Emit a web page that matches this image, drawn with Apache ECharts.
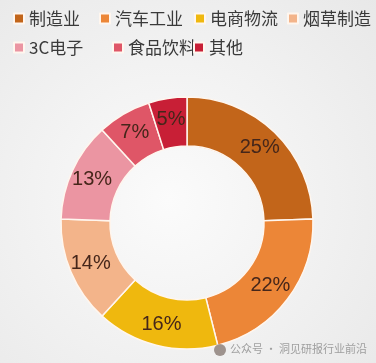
<!DOCTYPE html>
<html><head><meta charset="utf-8">
<script src="https://cdn.jsdelivr.net/npm/echarts@6/dist/echarts.min.js"></script>
<style>html,body{margin:0;padding:0;}#c{width:376px;height:363px;}</style>
</head><body><div id="c"></div>
<script>
var categories = ['制造业', '汽车工业', '电商物流', '烟草制造', '3C电子', '食品饮料', '其他'];
var shares = [25, 22, 16, 14, 13, 7, 5];
var colors = ['#C2651A', '#EC8637', '#EFB80E', '#F3B48A', '#EB95A2', '#DF5667', '#C81F36'];

var legendPos = [[13, 10], [99, 10], [194, 10], [287, 10], [13, 39], [112, 39], [193, 39]];
var legends = categories.map(function (n, i) {
  return {
    data: [n], left: legendPos[i][0], top: legendPos[i][1],
    icon: 'rect', itemWidth: 10, itemHeight: 10, itemGap: 0, padding: 0,
    selectedMode: false,
    textStyle: { fontSize: 17, color: '#3a3a3a', fontFamily: 'Noto Sans CJK SC', padding: [0, 0, 0, 0] }
  };
});

var chart = echarts.init(document.getElementById('c'));
chart.setOption({
  backgroundColor: {
    type: 'radial', x: 0.45, y: 0.55, r: 0.8,
    colorStops: [{ offset: 0, color: '#fbfbfb' }, { offset: 1, color: '#e8e8e8' }]
  },
  color: colors,
  legend: legends,
  series: [{
    type: 'pie',
    center: [187, 223],
    radius: [77, 126],
    startAngle: 90,
    clockwise: true,
    animation: false,
    itemStyle: { borderColor: '#fff6ee', borderWidth: 1.5 },
    label: {
      show: true, position: 'inside', formatter: '{c}%',
      fontSize: 20, color: '#45261a', fontFamily: 'Liberation Sans'
    },
    labelLine: { show: false },
    data: categories.map(function (n, i) { return { name: n, value: shares[i] }; })
  }],
  graphic: [
    { type: 'circle', shape: { cx: 220, cy: 350, r: 6 }, style: { fill: 'rgba(90,70,60,0.55)' }, z: 100 },
    { type: 'text', left: 230, top: 343, z: 100,
      style: { text: '公众号 · 洞见研报行业前沿', fontSize: 11, fill: 'rgba(150,150,150,0.9)', fontFamily: 'Noto Sans CJK SC' } }
  ]
});
</script></body></html>
